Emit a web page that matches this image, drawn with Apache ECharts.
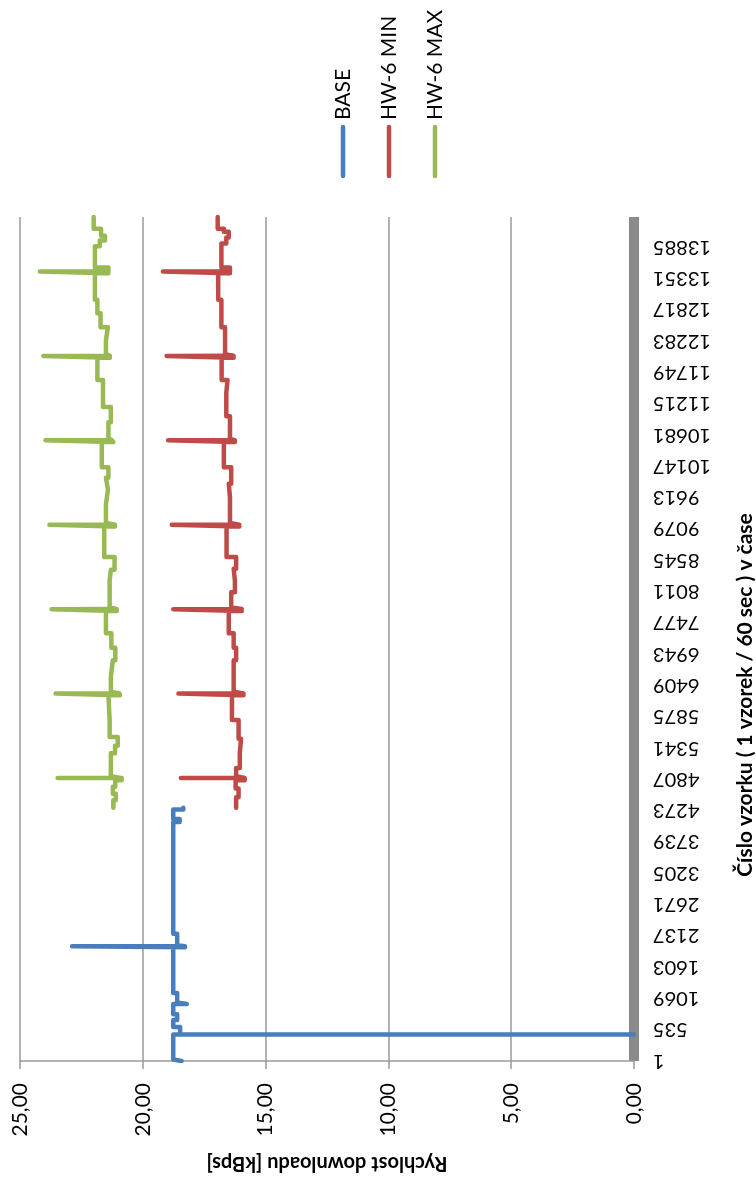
<!DOCTYPE html>
<html>
<head>
<meta charset="utf-8">
<script src="https://cdn.jsdelivr.net/npm/echarts@6/dist/echarts.min.js"></script>
<style>
html,body{margin:0;padding:0;background:#fff;}
#chart{width:756px;height:1185px;}
</style>
</head>
<body>
<div id="chart"></div>
<script>
// ---- data (step breakpoints: value holds from sample[i] until sample[i+1]) ----
const seriesNames = ['BASE', 'HW-6 MIN', 'HW-6 MAX'];
const seriesColors = ['#4A7EBB', '#BE4B48', '#98B954'];

const baseSample = [1, 25, 455, 456, 580, 700, 800, 975, 1000, 1160, 1940, 1958, 1959, 1975, 2170, 4080, 4130, 4290, 4320];
const baseValue  = [18.42, 18.76, 0.00, 18.48, 18.76, 18.60, 18.76, 18.21, 18.60, 18.76, 18.28, 22.88, 18.28, 18.60, 18.76, 18.50, 18.76, 18.35, 18.35];

const minSample = [4320, 4500, 4650, 4790, 4830, 4831, 4860, 5000, 5250, 5500, 5820, 6240, 6270, 6271, 6300, 6840, 7050, 7300, 7680, 7710, 7711, 7740, 8000, 8200, 8400, 8600, 9120, 9150, 9151, 9180, 9620, 9850, 10130, 10560, 10590, 10591, 10620, 11000, 11400, 11620, 12000, 12030, 12031, 12060, 12520, 12990, 13440, 13470, 13471, 13540, 13950, 14050, 14150, 14200, 14400];
const minValue  = [16.20, 16.10, 16.22, 15.85, 18.45, 15.85, 16.20, 16.05, 16.00, 16.10, 16.37, 15.90, 18.55, 15.90, 16.30, 16.20, 16.30, 16.50, 15.97, 18.76, 15.97, 16.40, 16.25, 16.30, 16.20, 16.59, 16.07, 18.82, 16.07, 16.45, 16.50, 16.40, 16.70, 16.25, 18.97, 16.25, 16.45, 16.60, 16.55, 16.79, 16.30, 19.03, 16.30, 16.65, 16.80, 16.93, 16.45, 19.18, 16.45, 16.80, 16.60, 16.50, 16.70, 16.95, 16.95];

const maxSample = [4320, 4450, 4560, 4680, 4790, 4830, 4831, 4860, 5250, 5380, 5530, 5820, 6240, 6270, 6271, 6300, 6560, 6840, 7050, 7300, 7680, 7710, 7711, 7740, 8200, 8380, 8600, 9120, 9150, 9151, 9180, 9500, 9750, 9950, 10130, 10560, 10590, 10591, 10620, 10900, 11160, 11620, 12000, 12030, 12031, 12060, 12300, 12520, 12760, 12990, 13440, 13470, 13471, 13540, 13900, 14000, 14080, 14200, 14400];
const maxValue  = [21.20, 21.10, 21.22, 21.12, 20.86, 23.47, 20.90, 21.30, 21.13, 21.02, 21.35, 21.40, 20.93, 23.55, 20.95, 21.30, 21.22, 21.12, 21.28, 21.50, 21.06, 23.71, 21.06, 21.35, 21.30, 21.15, 21.57, 21.13, 23.80, 21.13, 21.50, 21.42, 21.50, 21.40, 21.67, 21.20, 23.96, 21.25, 21.40, 21.30, 21.62, 21.85, 21.34, 24.05, 21.34, 21.50, 21.42, 21.72, 21.85, 21.95, 21.40, 24.19, 21.40, 21.95, 21.75, 21.54, 21.70, 22.00, 22.00];

const valueTicks = [0, 5, 10, 15, 20, 25];
const sampleStart = 1, sampleStep = 534, sampleEnd = 14400;

const axisTitleX = 'Rychlost downloadu [kBps]';
const axisTitleY = 'Číslo vzorku ( 1 vzorek / 60 sec ) v čase';

function stepPoints(samples, values) {
  const pts = [];
  for (let i = 0; i < samples.length; i++) {
    if (i > 0) pts.push([values[i - 1], samples[i]]);
    pts.push([values[i], samples[i]]);
  }
  return pts;
}

const FONT = 'Lato, "Open Sans", sans-serif';
const chart = echarts.init(document.getElementById('chart'), null, {renderer: 'canvas'});

const seriesData = [stepPoints(baseSample, baseValue), stepPoints(minSample, minValue), stepPoints(maxSample, maxValue)];

// legend drawn as rotated graphic items
const legendX = [343, 389, 435];
const graphics = [];
seriesNames.forEach((n, i) => {
  graphics.push({
    type: 'line', shape: {x1: legendX[i], y1: 127, x2: legendX[i], y2: 176},
    style: {stroke: seriesColors[i], lineWidth: 4.5, lineCap: 'round'}
  });
  graphics.push({
    type: 'text', x: legendX[i], y: 120, rotation: Math.PI / 2,
    style: {text: n, font: '21px ' + FONT, fill: '#000', align: 'left', verticalAlign: 'middle'}
  });
});
// category-axis title (rotated, reading bottom to top)
graphics.push({
  type: 'text', x: 745, y: 695, rotation: Math.PI / 2,
  style: {text: axisTitleY, font: 'bold 21px ' + FONT, fill: '#000', align: 'center', verticalAlign: 'middle'}
});

chart.setOption({
  animation: false,
  backgroundColor: '#fff',
  grid: {left: 20, right: 122, top: 217, bottom: 124, containLabel: false, outerBoundsMode: 'none'},
  xAxis: {
    type: 'value', inverse: true, position: 'bottom',
    min: valueTicks[0], max: valueTicks[valueTicks.length - 1], interval: valueTicks[1] - valueTicks[0],
    axisLine: {show: true, lineStyle: {color: '#9a9a9a', width: 1.5}},
    axisTick: {show: true, length: 8, lineStyle: {color: '#9a9a9a', width: 1.5}},
    splitLine: {show: true, lineStyle: {color: '#9a9a9a', width: 1.5}},
    axisLabel: {
      rotate: 90, margin: 22, fontSize: 21, fontFamily: FONT, color: '#000',
      formatter: v => v.toFixed(2).replace('.', ',')
    },
    name: axisTitleX, nameLocation: 'middle', nameRotate: 180, nameGap: 92,
    nameTextStyle: {fontSize: 20, fontWeight: 'bold', fontFamily: FONT, color: '#000'}
  },
  yAxis: {
    type: 'value', position: 'right', offset: 5,
    min: sampleStart, max: sampleEnd, interval: sampleStep,
    axisLine: {show: true, lineStyle: {color: '#8a8a8a', width: 10, cap: 'butt'}},
    axisTick: {show: false},
    splitLine: {show: false},
    axisLabel: {
      rotate: 180, margin: 14, fontSize: 20, fontFamily: FONT, color: '#000',
      showMaxLabel: false, showMinLabel: true,
      formatter: v => String(Math.round(v))
    }
  },
  series: seriesNames.map((n, i) => ({
    name: n, type: 'line', data: seriesData[i], showSymbol: false, symbol: 'none',
    lineStyle: {color: seriesColors[i], width: 4.5, cap: 'round', join: 'round'},
    itemStyle: {color: seriesColors[i]}
  })),
  graphic: graphics
});
</script>
</body>
</html>
